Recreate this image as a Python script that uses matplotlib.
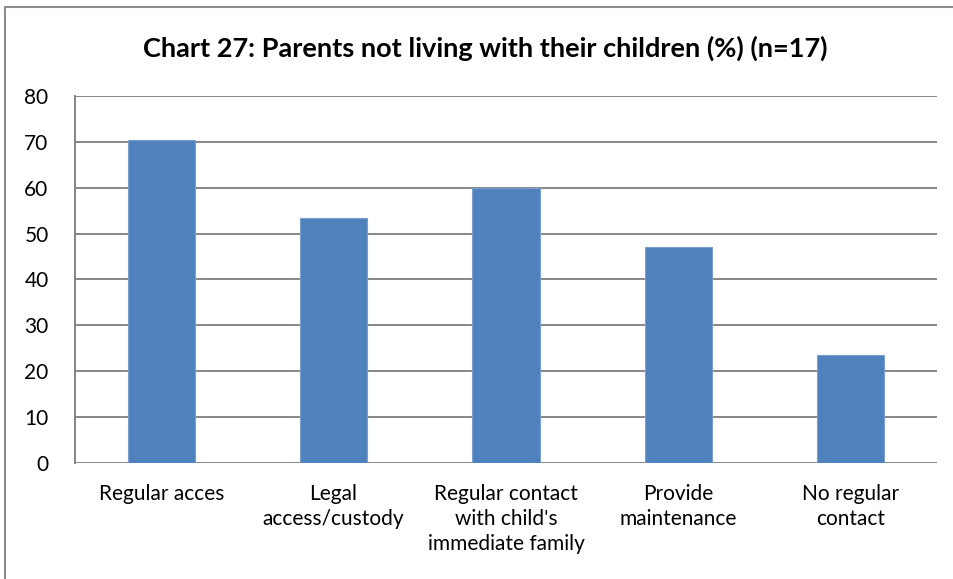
import matplotlib
matplotlib.use("Agg")
import matplotlib.pyplot as plt
from matplotlib.patches import Rectangle

categories = [
    "Regular acces",
    "Legal\naccess/custody",
    "Regular contact\nwith child's\nimmediate family",
    "Provide\nmaintenance",
    "No regular\ncontact",
]
values = [70.5, 53.3, 60.0, 47.0, 23.4]
yticks = [0, 10, 20, 30, 40, 50, 60, 70, 80]

plt.rcParams["font.family"] = ["Lato", "DejaVu Sans"]

fig = plt.figure(figsize=(9.54, 5.79), dpi=100)
ax = fig.add_axes([75 / 954, 1 - 462.7 / 579, (937 - 75) / 954, (462.7 - 96) / 579])

# outer chart border (cut off at right and bottom, as in the source)
fig.patches.append(Rectangle((5 / 954, -0.05), 1.0, 1 - 7 / 579 + 0.05,
                             transform=fig.transFigure, fill=False,
                             edgecolor="#8c8c8c", linewidth=1.5))

x = range(len(categories))
ax.bar(x, values, width=0.39, color="#4F81BD", edgecolor="#7BA0CD", linewidth=0.8, zorder=3)

ax.set_xlim(-0.5, len(categories) - 0.5)
ax.set_ylim(0, 80)
ax.set_yticks(yticks)
ax.set_xticks(list(x))
ax.set_xticklabels(categories, fontsize=15, linespacing=1.33)
ax.tick_params(axis="y", length=0, pad=19, labelsize=15)
ax.tick_params(axis="x", length=0, pad=15)
ax.grid(axis="y", color="#868686", linewidth=1.4, zorder=0)

for side in ["top", "right", "bottom"]:
    ax.spines[side].set_visible(False)
ax.spines["left"].set_color("#868686")
ax.spines["left"].set_linewidth(1.4)

fig.text(485 / 954, 1 - 48 / 579, "Chart 27: Parents not living with their children (%) (n=17)",
         ha="center", va="center", fontsize=19.5, fontweight="bold")

fig.savefig("out.png", dpi=100)
